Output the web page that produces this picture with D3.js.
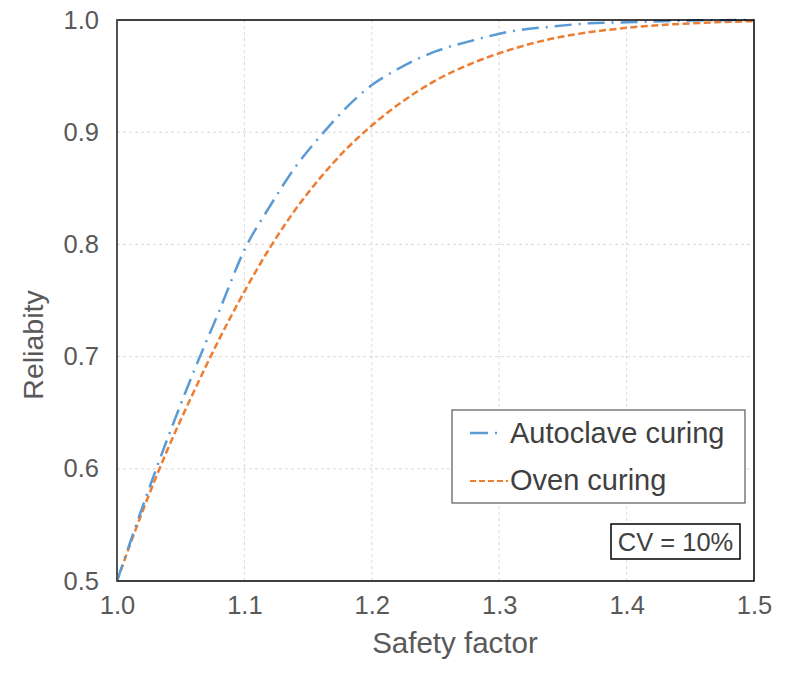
<!DOCTYPE html>
<html>
<head>
<meta charset="utf-8">
<script src="https://cdn.jsdelivr.net/npm/d3@7"></script>
<style>
  html, body { margin: 0; padding: 0; background: #fff; }
  svg { display: block; font-family: "Liberation Sans", Arial, sans-serif; }
</style>
</head>
<body>
<svg id="chart" width="787" height="677"></svg>
<script>
// ---- data ----
const safetyFactor = [1.00, 1.02, 1.04, 1.06, 1.08, 1.10, 1.12, 1.14, 1.16, 1.18, 1.20, 1.22, 1.25, 1.28, 1.31, 1.34, 1.37, 1.40, 1.45, 1.50];
const autoclave = [0.500, 0.566, 0.628, 0.686, 0.740, 0.795, 0.834, 0.869, 0.897, 0.922, 0.942, 0.956, 0.972, 0.982, 0.990, 0.994, 0.997, 0.998, 0.9995, 1.000];
const oven = [0.500, 0.562, 0.618, 0.668, 0.715, 0.758, 0.797, 0.831, 0.860, 0.885, 0.906, 0.924, 0.946, 0.962, 0.974, 0.983, 0.989, 0.993, 0.997, 0.999];
const xTicks = [1.0, 1.1, 1.2, 1.3, 1.4, 1.5];
const yTicks = [0.5, 0.6, 0.7, 0.8, 0.9, 1.0];
const seriesNames = ["Autoclave curing", "Oven curing"];
const noteText = "CV = 10%";
const xTitle = "Safety factor";
const yTitle = "Reliabity";

// ---- layout ----
const svg = d3.select("#chart");
const m = { left: 117, top: 20, right: 33, bottom: 96 };
const W = 787 - m.left - m.right;
const H = 677 - m.top - m.bottom;
const x = d3.scaleLinear().domain([1.0, 1.5]).range([0, W]);
const y = d3.scaleLinear().domain([0.5, 1.0]).range([H, 0]);
const g = svg.append("g").attr("transform", `translate(${m.left},${m.top})`);
const textColor = "#595959";

// grid
g.append("g").selectAll("line").data(xTicks.slice(1, -1)).join("line")
  .attr("x1", d => x(d)).attr("x2", d => x(d)).attr("y1", 0).attr("y2", H)
  .attr("stroke", "#d9d9d9").attr("stroke-width", 1).attr("stroke-dasharray", "3,3");
g.append("g").selectAll("line").data(yTicks.slice(1, -1)).join("line")
  .attr("y1", d => y(d)).attr("y2", d => y(d)).attr("x1", 0).attr("x2", W)
  .attr("stroke", "#d9d9d9").attr("stroke-width", 1).attr("stroke-dasharray", "3,3");

// axes
const xAxis = g.append("g").attr("transform", `translate(0,${H})`)
  .call(d3.axisBottom(x).tickValues(xTicks).tickFormat(d3.format(".1f")).tickSize(0).tickPadding(15));
const yAxis = g.append("g")
  .call(d3.axisLeft(y).tickValues(yTicks).tickFormat(d3.format(".1f")).tickSize(0).tickPadding(18));
[xAxis, yAxis].forEach(a => {
  a.select(".domain").remove();
  a.selectAll("text").attr("fill", textColor).style("font-size", "25.5px");
});

// lines
const data = safetyFactor.map((s, i) => ({ s, a: autoclave[i], o: oven[i] }));
const lineA = d3.line().x(d => x(d.s)).y(d => y(d.a)).curve(d3.curveMonotoneX);
const lineO = d3.line().x(d => x(d.s)).y(d => y(d.o)).curve(d3.curveMonotoneX);
g.append("path").datum(data).attr("d", lineO).attr("fill", "none")
  .attr("stroke", "#ED7D31").attr("stroke-width", 2.5).attr("stroke-dasharray", "7,3.5");
g.append("path").datum(data).attr("d", lineA).attr("fill", "none")
  .attr("stroke", "#5B9BD5").attr("stroke-width", 2.5).attr("stroke-dasharray", "17,7,2,7");

// frame
g.append("rect").attr("x", 0).attr("y", 0).attr("width", W).attr("height", H)
  .attr("fill", "none").attr("stroke", "#000").attr("stroke-width", 1.5);
g.append("line").attr("x1", 0).attr("x2", 0).attr("y1", 0).attr("y2", H)
  .attr("stroke", "#555").attr("stroke-width", 1.8);

// axis titles
svg.append("text").attr("x", 455).attr("y", 653).attr("text-anchor", "middle")
  .attr("fill", textColor).style("font-size", "29.5px").text(xTitle);
svg.append("text").attr("transform", "translate(43,345) rotate(-90)").attr("text-anchor", "middle")
  .attr("fill", textColor).style("font-size", "28.5px").text(yTitle);

// legend
const lg = svg.append("g");
lg.append("rect").attr("x", 452).attr("y", 410).attr("width", 293).attr("height", 93)
  .attr("fill", "#fff").attr("stroke", "#595959").attr("stroke-width", 1.2);
lg.append("line").attr("x1", 470).attr("x2", 499).attr("y1", 433).attr("y2", 433)
  .attr("stroke", "#5B9BD5").attr("stroke-width", 2.5).attr("stroke-dasharray", "18,7,2,7");
lg.append("line").attr("x1", 470).attr("x2", 508).attr("y1", 481).attr("y2", 481)
  .attr("stroke", "#ED7D31").attr("stroke-width", 2).attr("stroke-dasharray", "6,3");
lg.selectAll("text.lab").data(seriesNames).join("text").attr("class", "lab")
  .attr("x", 510).attr("y", (d, i) => 443 + i * 47)
  .attr("fill", "#404040").style("font-size", "29px").text(d => d);

// CV box
svg.append("rect").attr("x", 611).attr("y", 524).attr("width", 129).attr("height", 35)
  .attr("fill", "#fff").attr("stroke", "#000").attr("stroke-width", 1.5);
svg.append("text").attr("x", 675.5).attr("y", 551).attr("text-anchor", "middle")
  .attr("fill", "#404040").style("font-size", "25.5px").text(noteText);
</script>
</body>
</html>
